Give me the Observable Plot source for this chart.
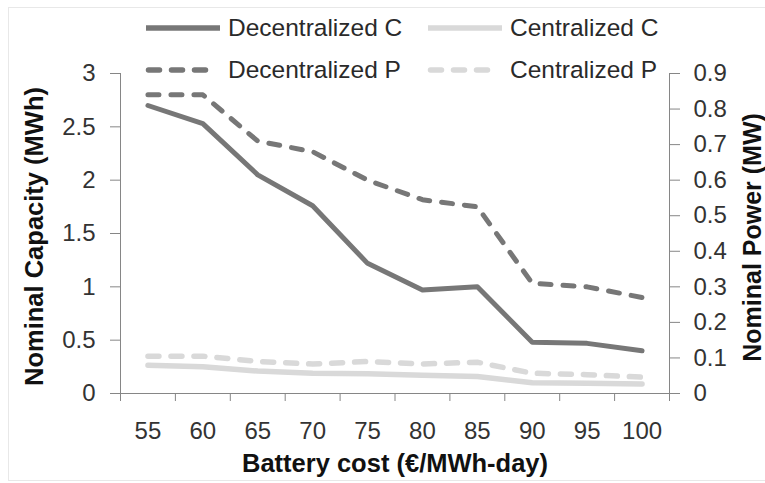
<!DOCTYPE html>
<html>
<head>
<meta charset="utf-8">
<script src="https://cdn.jsdelivr.net/npm/d3@7"></script>
<script src="https://cdn.jsdelivr.net/npm/@observablehq/plot@0.6"></script>
<style>
  html, body { margin: 0; padding: 0; background: #fff; }
  #wrap { position: relative; width: 765px; height: 483px; overflow: hidden; }
  #wrap svg.plot { position: absolute; left: 0; top: 0; }
  #border { position: absolute; left: 8px; top: 7px; width: 770px; height: 474px; border: 1px solid #e8e8e8; box-sizing: border-box; }
  .leg { position: absolute; display: flex; align-items: center; height: 30px;
         font-family: "Liberation Sans", Arial, sans-serif; font-size: 24.5px; color: #2a2a2a; white-space: nowrap; }
  .leg svg { margin-right: 8px; }
</style>
</head>
<body>
<div id="wrap"><div id="border"></div></div>
<script>
// ---- data ----
const categories = [55, 60, 65, 70, 75, 80, 85, 90, 95, 100];
const decentralizedC = [2.70, 2.53, 2.05, 1.76, 1.22, 0.97, 1.00, 0.48, 0.47, 0.40];
const centralizedC   = [0.265, 0.25, 0.21, 0.19, 0.185, 0.17, 0.16, 0.10, 0.095, 0.09];
const decentralizedP = [0.84, 0.84, 0.71, 0.68, 0.60, 0.545, 0.525, 0.31, 0.30, 0.27];
const centralizedP   = [0.105, 0.105, 0.09, 0.083, 0.09, 0.083, 0.088, 0.057, 0.053, 0.046];
const leftTicks  = [0, 0.5, 1, 1.5, 2, 2.5, 3];
const rightTicks = [0, 0.1, 0.2, 0.3, 0.4, 0.5, 0.6, 0.7, 0.8, 0.9];
const seriesNames = ["Decentralized C", "Centralized C", "Decentralized P", "Centralized P"];
const xTitle = "Battery cost (€/MWh-day)";
const yLeftTitle = "Nominal Capacity (MWh)";
const yRightTitle = "Nominal Power (MW)";

// ---- styles ----
const dark = "#777777", light = "#d9d9d9", axisColor = "#868686";
const tickText = "#333333", titleText = "#111111";
const dash = "11,12";

// right axis (MW) maps onto left axis (MWh): 0.9 MW <-> 3 MWh
const ratio = rightTicks[rightTicks.length - 1] / leftTicks[leftTicks.length - 1];

const rows = categories.map((c, i) => ({
  cost: c, decC: decentralizedC[i], cenC: centralizedC[i],
  decP: decentralizedP[i], cenP: centralizedP[i]
}));
const step = categories[1] - categories[0];
const boundaries = categories.map(c => c - step / 2).concat([categories[categories.length - 1] + step / 2]);
const fmt = d3.format("~g");

const chart = Plot.plot({
  width: 765, height: 483,
  marginLeft: 120, marginRight: 96, marginTop: 73, marginBottom: 90,
  x: {domain: [boundaries[0], boundaries[boundaries.length - 1]]},
  y: {domain: [leftTicks[0], leftTicks[leftTicks.length - 1]]},
  style: {fontFamily: "'Liberation Sans', Arial, sans-serif", fontSize: "24px", background: "transparent", overflow: "visible"},
  marks: [
    // axis lines
    Plot.ruleX([boundaries[0]], {stroke: axisColor, strokeWidth: 1}),
    Plot.ruleX([boundaries[boundaries.length - 1]], {stroke: axisColor, strokeWidth: 1}),
    Plot.ruleY([0], {stroke: axisColor, strokeWidth: 1}),
    // left axis
    Plot.axisY({ticks: leftTicks, tickFormat: fmt, tickSize: 10, tickPadding: 15, stroke: axisColor, fill: tickText, label: null}),
    // right axis (MW)
    Plot.axisY({anchor: "right", ticks: rightTicks.map(v => v / ratio), tickFormat: d => fmt(+(d * ratio).toFixed(3)),
                tickSize: 10, tickPadding: 14, stroke: axisColor, fill: tickText, label: null}),
    // x boundary ticks
    Plot.axisX({ticks: boundaries, tickSize: 8, tickFormat: () => "", stroke: axisColor, label: null}),
    // x category labels
    Plot.axisX({ticks: categories, tickSize: 0, tickPadding: 28, tickFormat: d => String(d), fill: tickText, label: null}),
    // series
    Plot.line(rows, {x: "cost", y: "cenC", stroke: light, strokeWidth: 5.5, strokeLinejoin: "round"}),
    Plot.line(rows, {x: "cost", y: d => d.cenP / ratio, stroke: light, strokeWidth: 5.5, strokeDasharray: dash, strokeLinecap: "round", strokeLinejoin: "round"}),
    Plot.line(rows, {x: "cost", y: "decC", stroke: dark, strokeWidth: 5, strokeLinejoin: "round"}),
    Plot.line(rows, {x: "cost", y: d => d.decP / ratio, stroke: dark, strokeWidth: 5, strokeDasharray: dash, strokeLinecap: "round", strokeLinejoin: "round"}),
    // titles
    Plot.text([xTitle], {frameAnchor: "bottom", dy: 70, fontSize: 25.5, fontWeight: "bold", fill: titleText, textAnchor: "middle", lineAnchor: "middle"}),
    Plot.text([yLeftTitle], {frameAnchor: "left", dx: -86, dy: 3, rotate: -90, fontSize: 25.5, fontWeight: "bold", fill: titleText, textAnchor: "middle", lineAnchor: "middle"}),
    Plot.text([yRightTitle], {frameAnchor: "right", dx: 83, dy: 4, rotate: -90, fontSize: 25, fontWeight: "bold", fill: titleText, textAnchor: "middle", lineAnchor: "middle"})
  ]
});
chart.classList.add("plot");
const wrap = document.getElementById("wrap");
wrap.appendChild(chart);

// legend (inside the plot area, top)
const legendItems = [
  {name: seriesNames[0], color: dark,  dashed: false, left: 146, top: 28, len: 74},
  {name: seriesNames[1], color: light, dashed: false, left: 428, top: 28, len: 74},
  {name: seriesNames[2], color: dark,  dashed: true,  left: 146, top: 70, len: 74},
  {name: seriesNames[3], color: light, dashed: true,  left: 428, top: 70, len: 74}
];
for (const it of legendItems) {
  const div = document.createElement("div");
  div.className = "leg";
  div.style.left = it.left + "px";
  div.style.top = (it.top - 15) + "px";
  div.innerHTML = `<svg width="${it.len}" height="10" style="overflow:visible"><line x1="${it.dashed ? 2.5 : 0}" y1="5" x2="${it.len - (it.dashed ? 2.5 : 0)}" y2="5" stroke="${it.color}" stroke-width="5.5"
     ${it.dashed ? `stroke-dasharray="${dash}" stroke-linecap="round"` : ""}/></svg><span>${it.name}</span>`;
  wrap.appendChild(div);
}
</script>
</body>
</html>
